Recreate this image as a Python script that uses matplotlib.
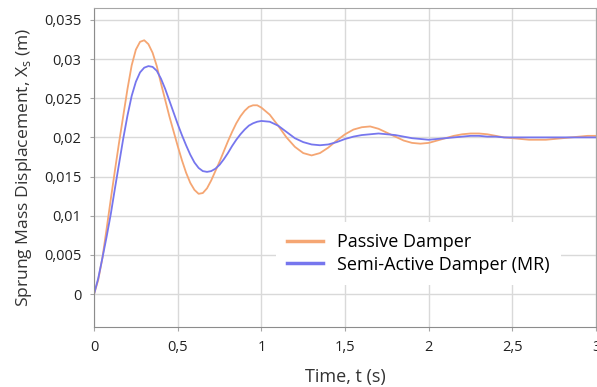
import matplotlib
matplotlib.use("Agg")
import matplotlib.pyplot as plt
from matplotlib.ticker import FuncFormatter, MultipleLocator
import numpy as np

plt.rcParams['font.family'] = ['Open Sans', 'DejaVu Sans']
plt.rcParams['mathtext.fontset'] = 'custom'
plt.rcParams['mathtext.rm'] = 'Open Sans'

# time points (s)
t_fine = [0.000, 0.025, 0.050, 0.075, 0.100, 0.125, 0.150, 0.175, 0.200, 0.225,
          0.250, 0.275, 0.300, 0.325, 0.350, 0.375, 0.400, 0.425, 0.450, 0.475,
          0.500, 0.525, 0.550, 0.575, 0.600, 0.625, 0.650, 0.675, 0.700, 0.725,
          0.750, 0.775, 0.800, 0.825, 0.850, 0.875, 0.900, 0.925, 0.950, 0.975]
t_coarse = [1.00, 1.05, 1.10, 1.15, 1.20, 1.25, 1.30, 1.35, 1.40, 1.45,
            1.50, 1.55, 1.60, 1.65, 1.70, 1.75, 1.80, 1.85, 1.90, 1.95,
            2.00, 2.05, 2.10, 2.15, 2.20, 2.25, 2.30, 2.35, 2.40, 2.45,
            2.50, 2.55, 2.60, 2.65, 2.70, 2.75, 2.80, 2.85, 2.90, 2.95, 3.00]
t = t_fine + t_coarse

passive = [0.0000, 0.0018, 0.0046, 0.0083, 0.0121, 0.0158, 0.0194, 0.0228, 0.0262, 0.0292,
           0.0312, 0.0322, 0.0324, 0.0319, 0.0308, 0.0291, 0.0269, 0.0248, 0.0227, 0.0208,
           0.0189, 0.0171, 0.0155, 0.0142, 0.0133, 0.0128, 0.0129, 0.0135, 0.0145, 0.0157,
           0.0169, 0.0182, 0.0195, 0.0207, 0.0218, 0.0227, 0.0234, 0.0239, 0.0241, 0.0241,
           0.0238, 0.0229, 0.0215, 0.0200, 0.0188, 0.0180, 0.0177, 0.0180, 0.0187, 0.0196,
           0.0204, 0.0210, 0.0213, 0.0214, 0.0211, 0.0206, 0.0201, 0.0196, 0.0193, 0.0192,
           0.0193, 0.0196, 0.0199, 0.0202, 0.0204, 0.0205, 0.0205, 0.0204, 0.0202, 0.0200,
           0.0199, 0.0198, 0.0197, 0.0197, 0.0197, 0.0198, 0.0199, 0.0200, 0.0201, 0.0202, 0.0202]

semi_active = [0.0000, 0.0020, 0.0046, 0.0073, 0.0102, 0.0135, 0.0167, 0.0199, 0.0228, 0.0253,
               0.0271, 0.0283, 0.0289, 0.0291, 0.0290, 0.0285, 0.0275, 0.0262, 0.0247, 0.0232,
               0.0217, 0.0203, 0.0190, 0.0178, 0.0168, 0.0161, 0.0157, 0.0156, 0.0157, 0.0160,
               0.0165, 0.0172, 0.0180, 0.0189, 0.0197, 0.0204, 0.0210, 0.0215, 0.0218, 0.0220,
               0.0221, 0.0220, 0.0215, 0.0207, 0.0199, 0.0194, 0.0191, 0.0190, 0.0191, 0.0194,
               0.0198, 0.0201, 0.0203, 0.0204, 0.0205, 0.0204, 0.0203, 0.0201, 0.0199, 0.0198,
               0.0197, 0.0198, 0.0199, 0.0200, 0.0201, 0.0202, 0.0202, 0.0201, 0.0201, 0.0200,
               0.0200, 0.0200, 0.0200, 0.0200, 0.0200, 0.0200, 0.0200, 0.0200, 0.0200, 0.0200, 0.0200]

fig = plt.figure(figsize=(5.97, 3.87), dpi=100)
ax = fig.add_axes([0.1575, 0.155, 0.841, 0.824])

ax.plot(t, passive, color='#f5a673', lw=1.3, label='Passive Damper')
ax.plot(t, semi_active, color='#7676ee', lw=1.3, label='Semi-Active Damper (MR)')

ax.set_xlim(0, 3)
ax.set_ylim(-0.0042, 0.0365)
ax.xaxis.set_major_locator(MultipleLocator(0.5))
ax.yaxis.set_major_locator(MultipleLocator(0.005))
fmt = FuncFormatter(lambda v, p: ('%g' % round(v, 4)).replace('.', ','))
ax.xaxis.set_major_formatter(fmt)
ax.yaxis.set_major_formatter(fmt)

ax.grid(color='#d9d9d9', lw=1)
ax.set_axisbelow(True)
for s in ax.spines.values():
    s.set_color('#a6a6a6')
ax.spines['left'].set_color('#8c8c8c')
ax.spines['bottom'].set_color('#8c8c8c')
ax.tick_params(length=3, color='#a6a6a6', labelsize=10.5, labelcolor='#222222', pad=6)

ax.set_xlabel('Time, t (s)', fontsize=13, color='#333333', labelpad=10)
ax.set_ylabel(r'Sprung Mass Displacement, X$_\mathrm{s}$ (m)', fontsize=12.6, color='#333333', labelpad=7)

leg = ax.legend(loc='lower left', bbox_to_anchor=(0.344, 0.105), frameon=True,
                fontsize=13, handlelength=2.0, borderpad=0.6, labelspacing=0.25)
leg.get_frame().set_edgecolor('none')
leg.get_frame().set_facecolor('white')
leg.get_frame().set_alpha(1)
for line in leg.get_lines():
    line.set_linewidth(2.5)

fig.savefig('out.png', dpi=100)
